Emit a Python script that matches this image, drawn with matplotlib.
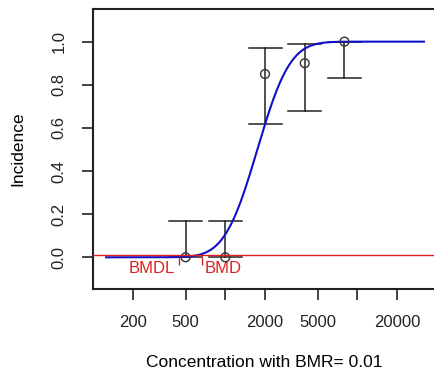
import math
import matplotlib
matplotlib.use("Agg")
import matplotlib.pyplot as plt
import numpy as np

plt.rcParams['font.family'] = ['Liberation Sans', 'DejaVu Sans']

# observed data
dose = [500, 1000, 2000, 4000, 8000]
incidence = [0.0, 0.0, 0.85, 0.90, 1.0]
ci_low = [0.0, 0.0, 0.62, 0.68, 0.83]
ci_high = [0.17, 0.17, 0.97, 0.99, 1.0]

# fitted log-probit model
ed50 = 1750.0
slope = 2.23
curve_range = (125, 32000)

bmr = 0.01
bmd = 667
bmdl = 446

xticks = [200, 500, 1000, 2000, 5000, 10000, 20000]
xticklabels = ['200', '500', '', '2000', '5000', '', '20000']
yticks = [0.0, 0.2, 0.4, 0.6, 0.8, 1.0]

fig = plt.figure(figsize=(4.34, 3.76), dpi=100)
ax = fig.add_axes([0.2143, 0.2314, 0.79, 0.745])
ax.set_xscale('log')

# error bars with wide caps
cap = 10 ** 0.125
for d, lo, hi in zip(dose, ci_low, ci_high):
    ax.plot([d, d], [lo, hi], color='#222222', lw=1.1, zorder=2)
    ax.plot([d / cap, d * cap], [hi, hi], color='#222222', lw=1.1, zorder=2)
    ax.plot([d / cap, d * cap], [lo, lo], color='#222222', lw=1.1, zorder=2)

# model curve
xs = np.logspace(np.log10(curve_range[0]), np.log10(curve_range[1]), 400)
z = slope * (np.log(xs) - math.log(ed50))
ys = np.array([0.5 * (1 + math.erf(v / math.sqrt(2))) for v in z])
ax.plot(xs, ys, color='#1010c8', lw=1.5, zorder=3)

ax.scatter(dose, incidence, s=40, facecolors='none', edgecolors='#333333',
           linewidths=1.0, zorder=4)

# BMR line and BMD/BMDL markers
ax.axhline(bmr, color='#e02020', lw=1.0, zorder=5)
ax.vlines([bmdl, bmd], -0.035, 0.0, color='#e02020', lw=1.0, zorder=5)
ax.text(bmdl * 0.93, -0.05, 'BMDL', color='#e02020', fontsize=12,
        ha='right', va='center')
ax.text(bmd * 1.05, -0.05, 'BMD', color='#e02020', fontsize=12,
        ha='left', va='center')

ax.set_xlim(99.5, 39400)
ax.set_ylim(-0.147, 1.152)
ax.set_xticks(xticks)
ax.set_xticklabels(xticklabels)
ax.minorticks_off()
ax.set_yticks(yticks)
ax.set_yticklabels([f'{v:.1f}' for v in yticks], rotation=90, va='center')
ax.tick_params(axis='both', length=8, width=1.2, labelsize=12, colors='#222222',
               pad=11)
for s in ax.spines.values():
    s.set_linewidth(1.5)
    s.set_color('#222222')

ax.set_ylabel('Incidence', fontsize=12.5, labelpad=19)
ax.set_xlabel('Concentration with BMR= 0.01', fontsize=12.5, labelpad=18)

fig.savefig('out.png', dpi=100)
